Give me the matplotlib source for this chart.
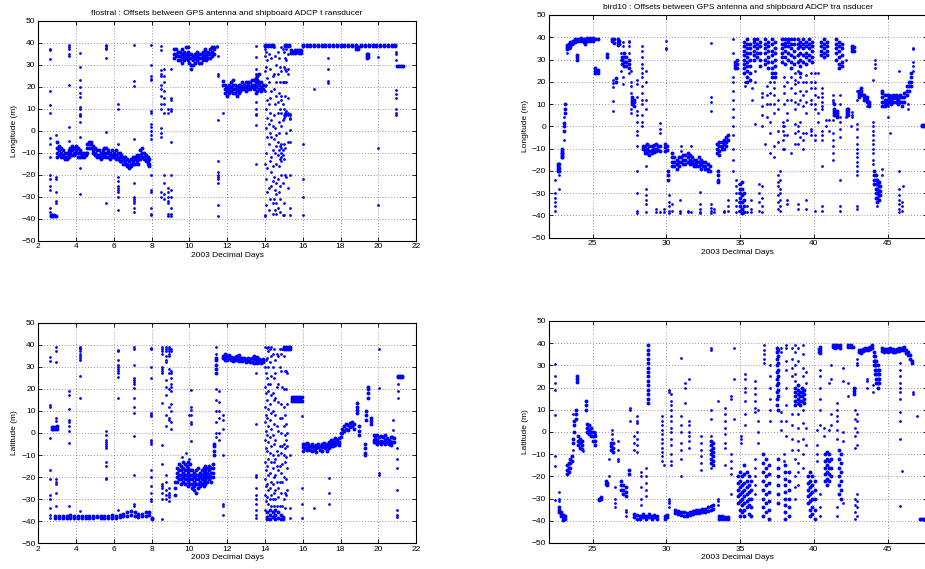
import matplotlib
matplotlib.use("Agg")
import matplotlib.pyplot as plt

plt.rcParams['font.family'] = ['Liberation Sans', 'DejaVu Sans']

# ---- flostral, longitude offsets (day, [values]) ----
flo_lon_dense = [
    (2.65, [-39, -38.5]), (2.75, [-39, -38.5]), (2.85, [-39, -38.5]), (2.95, [-39]),
    (3.0, [-5, -8, -10, -12]), (3.1, [-7, -9, -11]), (3.2, [-8, -10, -12]), (3.3, [-9, -11, -12]),
    (3.4, [-10, -12, -13]), (3.5, [-10, -12, -13]), (3.6, [-9, -11, -12]), (3.7, [-8, -10, -11]),
    (3.8, [-7, -9, -11]), (3.9, [-8, -10, -11]), (4.0, [-7, -9, -10]), (4.1, [-8, -10, -12]),
    (4.2, [-9, -10, -12]), (4.3, [-10, -11, -12]), (4.4, [-10, -11, -12]), (4.5, [-10, -11]),
    (4.6, [-6, -8, -10]), (4.7, [-5, -6, -8]), (4.8, [-5, -6, -8]), (4.9, [-7, -9, -10]),
    (5.0, [-8, -10, -11]), (5.1, [-9, -11, -12]), (5.2, [-9, -11, -12]), (5.3, [-10, -12, -13]),
    (5.4, [-9, -11, -12]), (5.5, [-8, -10, -11]), (5.6, [-8, -10, -12]), (5.7, [-9, -10, -12]),
    (5.8, [-10, -11, -13]), (5.9, [-9, -11, -12]), (6.0, [-10, -11, -12]), (6.1, [-9, -11, -13]),
    (6.2, [-10, -12, -13]), (6.3, [-10, -12, -14]), (6.4, [-11, -12, -14]), (6.5, [-12, -13, -15]),
    (6.6, [-12, -14, -15]), (6.7, [-13, -15, -16]), (6.8, [-14, -16, -17]), (6.9, [-13, -15, -16]),
    (7.0, [-12, -14, -15]), (7.1, [-12, -13, -15]), (7.2, [-11, -13, -14]), (7.3, [-12, -13, -15]),
    (7.4, [-9, -11, -13]), (7.5, [-8, -10, -12]), (7.6, [-10, -12, -13]), (7.7, [-11, -13, -14]),
    (7.8, [-12, -14, -15]), (7.85, [-13, -15, -16]),
    (9.2, [33, 35, 37]), (9.3, [34, 35, 37]), (9.4, [32, 34, 36]), (9.5, [32, 34, 36]),
    (9.6, [31, 33, 35, 37]), (9.7, [32, 34, 36]), (9.8, [33, 35, 38]), (9.9, [32, 34, 36, 38]),
    (10.0, [31, 33, 35]), (10.1, [28, 30, 33, 35]), (10.2, [30, 32, 34]), (10.3, [31, 33, 35]),
    (10.4, [32, 34, 36]), (10.5, [31, 33, 35]), (10.6, [31, 33, 35]), (10.7, [32, 34, 36]),
    (10.8, [33, 35, 37]), (10.9, [32, 34, 36]), (11.0, [33, 35, 36]), (11.1, [33, 35, 37]),
    (11.2, [34, 36, 38]), (11.3, [35, 37, 38]),
    (11.8, [21, 22.5]), (11.9, [17, 19, 21]), (12.0, [16, 18, 20]), (12.1, [17, 19, 21]),
    (12.2, [18, 20, 22]), (12.3, [17, 19, 21, 23]), (12.4, [17, 19, 21]), (12.5, [16, 18, 20]),
    (12.6, [17, 19, 21]), (12.7, [18, 20, 21]), (12.8, [19, 20, 22]), (12.9, [19, 20, 21]),
    (13.0, [18, 20, 22]), (13.1, [19, 21, 22]), (13.2, [19, 20, 22]), (13.3, [20, 21, 23]),
    (13.4, [19, 21, 23]), (13.5, [17, 20, 22, 24]), (13.6, [18, 21, 23, 25]), (13.7, [19, 21, 22, 26]),
    (13.8, [18, 20, 22]), (13.9, [19, 21]),
    (14.0, [38.5, 39]), (14.15, [38.5, 39]), (14.3, [38.5, 39]), (14.45, [38.5, 39]),
    (15.05, [38.5, 39]), (15.15, [38.5, 39]), (15.25, [38.5, 39]),
    (15.4, [35.5, 36.5]), (15.5, [35.5, 36]), (15.6, [35.5, 36.5]), (15.7, [36, 36.5]),
    (15.8, [35.5, 36.5]), (15.9, [35.5, 36.5]),
    (16.0, [38.5, 39]), (16.2, [38.5, 39]), (16.4, [38.5, 39]), (16.6, [38.5, 39]),
    (16.8, [38.5, 39]), (17.0, [38.5, 39]), (17.2, [38.5, 39]), (17.4, [38.5, 39]),
    (17.6, [38.5, 39]), (17.8, [38.5, 39]), (18.0, [38.5, 39]), (18.2, [38.5, 39]),
    (18.4, [38.5, 39]), (18.6, [38.5, 39]), (18.8, [37, 38, 39]), (18.95, [37, 38]),
    (19.1, [38.5, 39]), (19.3, [38.5, 39]), (19.5, [38.5, 39]), (19.7, [38.5, 39]),
    (19.9, [38.5, 39]), (20.1, [38.5, 39]), (20.3, [38.5, 39]), (20.5, [38.5, 39]),
    (20.7, [38.5, 39]), (20.9, [38.5, 39]), (19.4, [33, 34, 35]), (19.45, [33.5, 35]),
    (21.0, [29.5]), (21.1, [29.5]), (21.2, [29.5]), (21.3, [29.5]),
]
flo_lon_sparse = [
    (2.6, [37, 36.5, 32.5, 18, 11.5, 8, -3.5, -6, -12, -20, -22, -25, -27, -35, -37]),
    (2.95, [-2, -21, -22, -28, -32, -33]),
    (3.65, [39, 38, 37, 35, 34, 21, 1.5, -4.5]),
    (4.2, [35.5, 29, 23, 20, 17, 15.5, 11, 10, 7.5, 7, 6.5, 4, -3, -17, -29]),
    (5.6, [39, 38.5, 37.5, 37, 33, -0.5, -33]),
    (6.2, [12, 10, -6, -21, -23, -25, -26, -27, -28, -30, -36]),
    (7.05, [39, 22.5, 20.5, -4, -24, -30, -31, -32, -33, -35, -37]),
    (7.95, [39, 30, 25, 23.5, 23, 9, 8, 3, 1.5, 0, -2, -4, -20, -27, -28, -35, -38, -38.5]),
    (8.5, [38.5, 36.5, 27.5, 26, 25, 21, 19, 16, 12, 10, 1, -1, -3, -28, -30]),
    (8.65, [28, 25, 22, 18, 15, 12, 8, -20, -24, -29, -31]),
    (8.85, [10, 8, -26, -28, -30, -32, -33, -38, -39]),
    (9.05, [28, 15, 14, 10, 9, -5, -20, -27, -30, -35, -38, -39]),
    (11.45, [38.5, 38]),
    (11.5, [34, 26, 25, 5, -14, -19, -20, -21, -22, -24, -34, -39]),
    (11.8, [8]),
    (13.55, [38.5, 33.5, 28, 26, 13, 10, 7.5, 7, 2.5, -15]),
    (14.0, [37, 34, 27, 20.5, 18, -15, -38.5, -39]),
    (14.07, [36, 29, 21, 10, 1, -10, -22, -34]),
    (14.13, [32, 24, 14, 6, -3, -17, -28]),
    (14.2, [35, 22, 12, 3, -6, -26, -36]),
    (14.27, [28, 15, 8, -1, -14, -31]),
    (14.33, [33, 18, 5, -3, -12, -19, -25]),
    (14.4, [25, 2, -9, -16, -23, -33, -38]),
    (14.47, [38, 26, 19, 7, -4, -21, -31]),
    (14.53, [34, 12, 1, -10, -27, -36]),
    (14.6, [30, 22, 16, -2, -7, -15, -24, -29, -33, -38]),
    (14.67, [36, 26, 13, 8, -5, -11, -22, -35]),
    (14.73, [33, 17, 4, -1, -9, -16, -28]),
    (14.8, [29, 22, 10, -7, -13, -25, -31, -37]),
    (14.87, [38, 27, 16, 14, 8, 2, -6, -8, -10, -12, -14, -20]),
    (14.93, [37, 22, 12, 5, -9, -11, -24, -38.5]),
    (15.0, [36, 29, 22, 10, 7, 6, -6, -13, -33, -38.5]),
    (15.07, [33, 28, 16, 8, 6.5, -8, -20]),
    (15.13, [37, 32, 27, 22, 9, 7.5, -1, -21]),
    (15.2, [35, 28, 26, 15, 8, 7, -5, -26]),
    (15.35, [7.5, 7, 6, 5.5, 0.5, -5, -20, -35, -38.5]),
    (16.0, [-6, -22, -30, -38.5]),
    (16.6, [19]),
    (17.35, [33, 28, 22.5, 21.5]),
    (20.0, [33.5, -8, -34]),
    (20.95, [36, 35, 32, 18.5, 16.5, 15, 10, 8, 7]),
]

# ---- flostral, latitude offsets ----
flo_lat_dense = [
    (2.9, [-37.5, -38.5]), (3.1, [-37.5, -38.5]), (3.3, [-37.5, -38.5]), (3.5, [-37.5, -38.5]),
    (3.7, [-37, -38.5]), (3.9, [-37.5, -38.5]), (4.1, [-37.5, -38.5]), (4.3, [-37.5, -38.5]),
    (4.5, [-37.5, -38.5]), (4.7, [-37.5, -38.5]), (4.9, [-37.5, -38.5]), (5.1, [-37.5, -38]),
    (5.3, [-37.5, -38.5]), (5.5, [-37.5, -38.5]), (5.7, [-37.5, -38.5]), (5.9, [-37, -38.5]),
    (6.1, [-37.5, -38.5]), (6.3, [-37, -38]), (6.5, [-36.5, -37.5]), (6.7, [-36, -37.5]),
    (6.9, [-35.5, -37]), (7.1, [-36, -37.5]), (7.3, [-36.5, -38]), (7.5, [-36.5, -37.5]),
    (7.7, [-36, -37.5]), (7.85, [-36, -37]), (8.0, [-38.5, -39]),
    (2.7, [2, 2.5]), (2.8, [2, 2.5]), (2.9, [2, 2.5]), (3.0, [2, 3]),
    (9.25, [-28, -25, -22]), (9.35, [-16, -18, -20, -22]), (9.45, [-14, -17, -19, -21]),
    (9.55, [-15, -17, -19, -21, -23]), (9.65, [-13, -16, -18, -20, -22]), (9.75, [-14, -17, -19, -21, -23]),
    (9.85, [-15, -17, -19, -21]), (9.95, [-13, -16, -18, -20, -22, -24]), (10.05, [-14, -17, -19, -21, -23]),
    (10.15, [-17, -19, -21, -23, -25]), (10.25, [-18, -20, -22, -24, -26]), (10.35, [-17, -19, -21, -23, -27]),
    (10.45, [-16, -19, -21, -23, -25]), (10.55, [-18, -20, -22, -24]), (10.65, [-17, -19, -21, -23]),
    (10.75, [-16, -18, -20, -22, -24]), (10.85, [-15, -17, -19, -21, -23]), (10.95, [-16, -18, -20, -22]),
    (11.05, [-15, -17, -19, -21]), (11.15, [-16, -18, -20, -22]), (11.25, [-14, -16, -18, -20]),
    (11.32, [-10, -8, -6, -5]), (11.42, [27, 29, 31, 33, 34]),
    (11.8, [34, 35]), (11.9, [33, 34.5, 36]), (12.0, [33, 35]), (12.1, [34, 35.5]),
    (12.2, [33, 34.5]), (12.3, [32.5, 34]), (12.4, [33, 34.5]), (12.5, [33, 35]),
    (12.6, [32.5, 34, 35.5]), (12.7, [33, 34]), (12.8, [32.5, 34]), (12.9, [33, 34]),
    (13.0, [32, 33.5]), (13.1, [32.5, 34]), (13.2, [32, 33.5]), (13.3, [32, 34]),
    (13.4, [31.5, 33.5, 35]), (13.5, [32, 33.5]), (13.6, [31.5, 33, 34.5]), (13.7, [32, 33.5]),
    (13.8, [31.5, 33]), (13.9, [32, 33.5]),
    (14.1, [-36, -38, -39]), (14.25, [-35, -37, -39]), (14.4, [-36, -38]), (14.55, [-35, -37, -39]),
    (14.7, [-36, -38.5]), (14.85, [-37, -39]), (14.95, [-38, -39]),
    (15.0, [38, 39]), (15.1, [38, 39]), (15.2, [38, 39]), (15.3, [38, 39]),
    (15.45, [14.5, 15.5, 16.5]), (15.55, [14.5, 15.5, 16.5]), (15.65, [14.5, 15.5, 16.5]),
    (15.75, [14.5, 15.5, 16.5]), (15.85, [14.5, 15.5, 16.5]), (15.95, [14.5, 16.5]),
    (16.0, [-5, -6.5, -8]), (16.1, [-5, -7]), (16.2, [-4.5, -6, -7.5]), (16.3, [-5, -6.5]),
    (16.4, [-6, -7.5]), (16.5, [-5, -6.5, -8]), (16.6, [-6, -7.5]), (16.7, [-5.5, -7, -8.5]),
    (16.8, [-5, -6.5]), (16.9, [-6, -7.5]), (17.0, [-5, -6.5, -8]), (17.1, [-4.5, -6]),
    (17.2, [-5.5, -7]), (17.3, [-5, -6.5, -8]), (17.4, [-4, -5.5, -7]), (17.5, [-3, -4.5, -6]),
    (17.6, [-3, -4.5, -6]), (17.7, [-2.5, -4, -5.5]), (17.8, [-3, -4.5]), (17.9, [-2.5, -4, -5.5]),
    (18.0, [-2, 0]), (18.1, [0, 2]), (18.2, [1, 3]), (18.3, [2, 4]), (18.4, [1.5, 3.5]),
    (18.5, [2.5, 4.5]), (18.6, [3, 5]), (18.7, [2, 4]),
    (18.85, [9, 10.5, 12, 13.5]), (19.0, [-1, 1, 3]), (19.3, [-5, -7, -9, -10]),
    (19.35, [6, 8, 10]), (19.45, [16, 18, 20, 21]), (19.6, [4, 5.5, 7]),
    (19.75, [-1, -3, -4]), (19.85, [-2, -4]), (19.95, [-1, -3, -5]), (20.05, [-2, -4]),
    (20.15, [-1.5, -3.5, -5]), (20.25, [-2, -4]), (20.35, [-1, -3, -5]), (20.45, [-2.5, -4]),
    (20.55, [-3, -5]), (20.65, [-2, -4, -5.5]), (20.75, [-2, -4]), (20.85, [-2.5, -4]),
    (21.05, [25.5, 26]), (21.15, [25.5, 26]), (21.25, [25.5, 26]),
]
flo_lat_sparse = [
    (2.6, [34.5, 32.5, 12.5, 12, -2.5, -17, -21, -28, -30, -34, -37, -38.5]),
    (2.95, [39, 37, 32, 7, 5.5, -21, -22, -23, -27, -33]),
    (3.65, [19, 17, 11, 6, 5, 3, 1, -4.5, -33]),
    (4.2, [39, 38.5, 38, 37, 36, 35, 34, 33, 26, 16, -35.5]),
    (5.6, [1, -1, -3, -4, -5, -6, -7, -13, -15, -20.5, -21]),
    (6.2, [37.5, 37, 33, 31, 30, 29, 28, 27, 25.5, 16, -35]),
    (7.05, [39, 38, 31, 25, 24, 23, 22, 20.5, 16, 12, 9, -1.5, -19, -32, -33]),
    (7.95, [38.5, 38, 30, 25, 9, 8, 7.5, -3, -4, -5, -17, -20, -24, -27, -30, -31]),
    (8.55, [39, 38, 37, 36, 30, 29, 28, 27, 13.5, -5.5, -14, -23, -24, -25, -27, -30, -39]),
    (8.75, [39, 38, 37, 35, 33, 32, 24, 21, 17, 8, 3, -19, -22, -26, -28, -30]),
    (8.9, [39, 38, 37, 36, 35, 29, 27, 20, 12, 7, 6, -25, -27, -28, -29, -31]),
    (9.05, [38, 37, 28, 27, 25, 22, 21, 19, 13, 10, 5, 2]),
    (9.6, [-11]), (9.8, [-9]), (10.0, [8, -12]), (10.1, [19.5, 12, 10.5, 8, 5, 4, -3.5]),
    (11.4, [-2, 0, 5, 10, 15, 20, 36, 39]),
    (11.55, [19, 14, 10, 7, 0, -3]),
    (11.8, [8, 6, 2, -10, -32, -33, -37]),
    (13.55, [27, 4, -19, -20, -25, -28, -30, -32, -35, -37, -38.5]),
    (14.0, [39, 30, 21, 12, 5, -3, -13, -21, -28, -35]),
    (14.05, [33, 27, 18, 8, 1, -7, -17, -24, -31]),
    (14.12, [38.5, 34, 25, 15, 7, -1, -8, -15, -23, -29]),
    (14.18, [39, 37, 30, 22, 19, 11, 3, -4, -12, -19, -26, -32]),
    (14.25, [38, 32, 22, 13, 6, -2, -9, -18, -25, -30]),
    (14.32, [39, 35, 26, 17, 9, 2, -6, -13, -22, -28, -33]),
    (14.4, [36, 30, 18, 10, -1, -10, -16, -23, -30]),
    (14.47, [38, 25, 15, 4, -5, -13, -20, -27, -33]),
    (14.55, [33, 27, 16, 8, -3, -12, -19, -26, -30]),
    (14.62, [36, 21, 3, -8, -15, -22, -33]),
    (14.7, [35, 22, 14, 1, -10, -17, -25, -29]),
    (14.77, [38, 30, 7, -6, -15, -22, -33]),
    (14.85, [36, 28, 13, 0, -9, -18, -27]),
    (14.92, [38, 21, 7, -6, -14, -22, -33]),
    (15.0, [35, 20, 12, 3, -5, -10, -20, -30]),
    (15.05, [28, 8, -1, -7, -13, -27, -34]),
    (15.12, [28, 20, 4, -3, -11, -21, -28]),
    (15.18, [27, 13, 0, -6, -16, -26]),
    (15.35, [-10, -34, -38.5]),
    (15.95, [7.5, -25, -32, -38.5]),
    (16.6, [-34]),
    (17.4, [-20.5, -27, -32]),
    (20.05, [38, 20.5, -18, -19]),
    (20.8, [6, 1.5]),
    (21.0, [-7, -12, -16, -26, -35, -37, -38]),
    (21.05, [22, 19, 16]),
]

# ---- bird10, longitude offsets ----
bird_lon_dense = [
    (22.65, [-17, -18, -19, -20]), (22.75, [-17, -18.5, -20]), (22.9, [-11, -12, -13, -14]),
    (22.95, [-10, -12, -14]), (23.05, [-2, 0, 1.5]), (23.15, [6, 8, 10]),
    (23.3, [34.5, 35.5, 36.5]), (23.4, [35, 36, 37]), (23.5, [35.5, 37, 38]), (23.6, [37, 38]),
    (23.7, [37.5, 38.5]), (23.8, [38, 39]), (24.0, [38.5, 39]), (24.2, [38.5, 39.5]),
    (24.4, [38, 39]), (24.5, [37, 38]), (24.6, [38.5, 39.5]), (24.8, [38.5, 39.5]),
    (25.0, [38.5, 39.5]), (25.2, [39]), (25.35, [39]),
    (23.95, [30, 31, 32]), (25.2, [24, 25, 26]), (25.4, [24, 25.5]), (25.95, [31, 32.5]),
    (26.3, [38.5, 39]), (26.45, [37.5, 39]), (26.7, [36.5, 38, 39]), (26.8, [37, 38.5]),
    (26.6, [20, 21.5]),
    (27.0, [28, 30, 31]), (27.15, [27, 29, 31, 33]), (27.3, [27, 29, 31]), (27.45, [26, 28, 30]),
    (27.7, [10, 11, 12, 13]), (27.8, [9, 11, 12]),
    (28.4, [-9, -10]), (28.55, [-9, -10.5, -12]), (28.7, [-8, -10, -12]), (28.85, [-9, -11, -13]),
    (29.0, [-9, -10.5, -12]), (29.15, [-8.5, -10, -11.5]), (29.3, [-8, -10, -11]), (29.45, [-9, -10.5]),
    (29.6, [-9, -11]), (29.9, [-8, -9.5, -11]), (30.05, [-9, -10.5]),
    (30.1, [-20, -22, -24]),
    (30.4, [-12, -14, -16, -18]), (30.55, [-14, -16, -18]), (30.7, [-15, -17, -19]), (30.85, [-14, -16, -18]),
    (31.0, [-14, -16]), (31.15, [-13, -15, -17]), (31.3, [-13, -15, -17]), (31.45, [-12, -14, -16]),
    (31.6, [-13, -15, -17]), (31.75, [-14, -16, -17]), (31.9, [-15, -17, -18]), (32.05, [-15, -16.5, -18]),
    (32.2, [-14, -16, -18]), (32.35, [-15, -17, -19]), (32.5, [-16, -18]), (32.65, [-16, -18, -19]),
    (32.8, [-17, -19, -20]), (32.95, [-18, -20]),
    (33.45, [-8, -10, -12]), (33.6, [-7, -9, -11, -13]), (33.75, [-7, -9, -10]), (33.9, [-6, -8, -10]),
    (34.05, [-5, -7, -9]), (34.2, [-4, -6]), (33.5, [-20, -22, -24, -25]),
    (34.65, [26, 27.5, 29]), (34.8, [26, 28, 30]),
    (35.0, [-26, -28, -30, -32, -34, -36, -38]), (35.15, [-25, -28, -31, -34, -37, -39]),
    (35.3, [-30, -33, -36, -38.5]),
    (35.25, [38, 36, 34, 32, 30, 28, 26, 24]), (35.45, [39, 37, 35, 33, 31, 29, 27, 25, 22, 20]),
    (35.65, [37, 35, 33, 30, 27, 24, 21]), (35.95, [39, 38, 36, 34, 32, 30]),
    (36.15, [39, 37, 35, 33, 31]), (36.35, [38, 36, 33, 30, 27]),
    (36.7, [39, 37, 35, 33, 30, 28]), (36.9, [38, 36, 34, 31, 29, 26]),
    (37.15, [39, 37, 34, 32, 29, 26, 24, 22]), (37.35, [38, 35, 33, 30, 27, 24, 22]),
    (37.85, [39, 37, 35, 33, 31, 29]), (38.05, [39, 37.5, 36, 34, 31, 28]), (38.25, [39, 38, 36, 33, 30]),
    (38.45, [39, 37, 35, 32, 29, 26]), (38.65, [39, 37, 34, 31, 28]),
    (38.9, [39, 37, 35, 32, 29]), (39.1, [38, 36, 33, 30, 27, 24]), (39.3, [39, 37, 35, 32, 29]),
    (39.5, [38, 36, 33, 31, 28]), (39.7, [39, 37, 35, 32, 30]), (39.9, [38, 36, 34, 31, 29]),
    (40.5, [38, 36, 34, 32]), (40.7, [39, 37, 35, 33, 31]), (40.9, [38, 36, 34, 32]),
    (41.5, [39, 37, 35, 33, 30]), (41.7, [38, 36, 34, 31, 28, 26]), (41.9, [37, 35, 32, 29, 27]),
    (42.6, [34, 35, 36]), (42.75, [34, 35.5]),
    (41.4, [5, 6, 7, 8, 10]), (41.55, [4, 5, 6, 7]), (42.25, [5, 6, 7, 8]), (42.35, [5, 6.5, 8]),
    (43.05, [13, 14, 15, 16]), (43.2, [14, 15, 16, 17]), (43.4, [12, 13, 14]), (43.6, [11, 12, 13]),
    (43.75, [9, 10, 11]),
    (44.1, [-20, -22, -24, -26]), (44.2, [-22, -24, -26, -28, -30, -32]),
    (44.3, [-24, -26, -28, -30, -32, -34]), (44.4, [-25, -27, -29, -31, -33]), (44.5, [-27, -29, -31]),
    (44.65, [9, 11, 13, 15, 16]), (44.8, [9, 10.5, 12, 14]), (44.95, [10, 12, 14]), (45.1, [11, 12.5, 14]),
    (45.25, [10, 12, 13.5]), (45.4, [11, 12.5, 14]), (45.55, [11, 12.5, 14]), (45.7, [10, 12, 13.5]),
    (45.85, [11, 13, 14]), (46.0, [9, 11, 13]), (46.15, [11, 13, 15]), (46.3, [14, 16, 18]),
    (46.45, [16, 18, 20]), (46.6, [18, 20, 22, 24]),
    (47.35, [0, 0.5]), (47.5, [0, 0.5]), (47.65, [0]),
]
bird_lon_sparse = [
    (22.45, [-24, -30, -32, -34, -36, -38]), (22.7, [-22, -28]), (23.1, [-6, 4]), (23.3, [33]),
    (26.4, [21, 19.5, 17.5, 11.5, 7]), (26.9, [33, 30, 25]), (27.1, [38, 36, 22, 19]),
    (27.5, [38.5, 38, 36, 33, 24]), (27.6, [25, 20, 18, 15, 8, 6]),
    (28.0, [21, 19, 13, 7, 5, 2, -2, -4, -9, -20, -30, -38, -39]),
    (28.35, [36, 34, 31, 28, 26, 24, 22, 18, 15, 12, 10, 5, 2, 0]),
    (28.65, [25, 20, 12, 8, -18, -28, -31, -33, -35, -38.5]),
    (29.3, [-37, -38.5]), (29.6, [1.5, -1, -3, -38.5]), (29.85, [-38.5, -37]), (29.95, [38.5, 35, 34.5]),
    (30.2, [-31, -34, -36, -38, -39]), (30.4, [-35, -38]), (30.9, [-33, -38, -39]),
    (31.5, [-38.5, -38]), (31.7, [-38.5, -9]), (32.3, [-29.5, -35, -37, -38.5, -39]),
    (33.0, [-35, -36.5, -38, -39, 37.5, 13, 11, 7]), (33.25, [-37, -38.5]), (33.9, [-38, -38.5]),
    (34.2, [-33, -36, -38]), (31.0, [-9, -11]),
    (34.55, [39, 33, 22, 20, 16, 12, 8, 4, 0, -4, -10, -15, -20]),
    (34.75, [-24, -27, -30, -33, -36, -38.5]), (34.9, [-26, -30, -34, -38]),
    (35.5, [-36, -38.5]), (35.75, [-33, -37, -38.5]),
    (35.35, [20, 18]), (35.8, [17, 12]), (36.05, [25, 20, 1]),
    (36.3, [-26, -30, -34, -38]),
    (36.5, [15, 13, 9, 5, 0, -27, -32, -36, -38.5]), (36.7, [-8]),
    (36.8, [18, 14, 10, 4]), (37.0, [20, 15, 10, 2, -3, -12]),
    (37.3, [20, 17, 14, 10, 6, -9, -14]),
    (37.55, [12, 8, -2, -7, -22, -25, -27, -31, -34, -37]),
    (37.7, [-20, -24, -28, -30, -33, -36, -38]),
    (37.9, [2, 0, -2, -6, -10]), (38.0, [22, 18, 15, 10, 0, -4, -10]),
    (38.2, [20, 12, 6, 3, -4, -33, -35]), (38.45, [22, 17, 12, -12]),
    (38.7, [24, 21, 19, 15, 11, 8, 1, -3, -8]), (38.9, [25, 20, 10, 0, -2, -8, -35, -37]),
    (39.05, [22, 16, 12, 2, -5]), (39.3, [20, 14, 9, -3, -6, -10]),
    (39.5, [23, 20, 16, 11, 6, -3, -33, -37]), (39.8, [24, 20, 17, 12, 10, -1, -2, -4]),
    (40.05, [24, 20, 17, 14, 10, 8, -4, -6, -38]), (40.3, [24, 13, 6, 2]),
    (40.55, [17, 15, 13, 11, 9, 8, -2, -4, -6, -18, -36, -38]),
    (40.8, [3, 0]), (41.0, [3, -2]),
    (41.3, [14, 12, 11, 3, -3, -6, -9, -12, -15]),
    (41.75, [14, 10, 4, 2, -1, -5, -24, -36, -38]),
    (42.2, [30, 4]), (42.5, [0]),
    (42.9, [16, 12, 1, -1, -5, -8, -10, -12, -14, -16, -18, -20, -22, -36, -37]),
    (43.6, [9]), (44.0, [2, 0, -2, -4, -6, -8, -10, -12, -15, -17, 21]),
    (44.15, [30, 28, 26]), (44.3, [-36]), (44.6, [-19, -22]),
    (45.0, [9, 4]), (45.2, [-3]),
    (45.8, [25, -20, -28, -31, -33, -35, -37, -38.5]), (45.95, [-34, -36, -38]),
    (46.05, [-27]), (46.4, [10, 8]), (46.7, [35, 34.5, 29, 27, 25]), (42.6, [6.5, 5, 4]),
]

# ---- bird10, latitude offsets ----
bird_lat_dense = [
    (22.7, [-34, -35, -36]), (22.85, [-36, -37, -38]), (23.0, [-37.5, -38.5, -39.5]), (23.15, [-38, -39]),
    (23.3, [-15, -17, -19]), (23.4, [-14, -16, -18]), (23.5, [-12, -14, -16]), (23.6, [-11, -13]),
    (23.65, [-5, -3]), (23.75, [0, 3, 5]), (23.85, [6, 8, 10]), (23.95, [22.5, 24, 25]),
    (24.0, [-2, -4, -6]), (24.15, [-3, -5, -7]), (24.3, [-4, -6, -7.5]), (24.55, [10, 12, 14]),
    (24.6, [0, 2, 3.5]), (24.75, [-1, 1, 3]), (24.9, [-2, 0, 2]), (25.05, [-4, -2, 0]), (25.15, [-6, -4, -2]),
    (25.45, [-30, -30.5]), (25.6, [-30, -29.5]), (25.9, [-22, -23.5]), (26.0, [-23, -24]),
    (26.25, [-5, -6.5, -8]), (26.4, [-5, -7, -9]),
    (26.95, [-22, -24, -26]), (27.1, [-24, -26, -28]), (27.25, [-25, -27, -29]), (27.5, [-17, -19]),
    (27.8, [-37, -38.5]), (28.0, [-37.5, -39]), (28.2, [-38, -39]), (28.4, [-37, -38.5]),
    (28.6, [-38, -39]), (28.8, [-37, -38.5]), (29.0, [-38, -39]), (29.2, [-37.5, -38.5]),
    (29.4, [-38, -39]), (29.9, [-38, -39]), (30.05, [-37.5, -38.5]),
    (28.75, [39, 37, 35, 33, 31, 29, 27, 25, 23, 21, 19, 17, 15, 13]),
    (30.6, [-35, -36.5]), (30.8, [-35.5, -37]), (31.0, [-36, -37.5]), (31.2, [-36, -38]),
    (31.4, [-36.5, -38]), (31.6, [-36, -37.5]), (31.8, [-35.5, -37]), (32.0, [-35, -36.5]),
    (32.2, [-35, -36.5]), (32.4, [-34.5, -36]), (32.6, [-34.5, -36]), (32.8, [-34, -35.5]),
    (33.0, [-33.5, -35]), (33.2, [-33, -34.5]),
    (33.6, [-38, -39]), (33.8, [-38, -39]), (34.0, [-38.5, -39]), (34.2, [-38.5, -39]),
    (33.05, [-4, -6, -8, -10, -12, -14]), (33.15, [-5, -7, -9, -11, -13, -15]),
    (34.85, [-20, -23, -26, -29, -32]), (35.0, [-18, -22, -25, -28, -31, -35, -38]),
    (35.15, [-20, -24, -27, -30, -33, -36]), (35.3, [-15, -19, -23, -26, -29, -32, -35, -38]),
    (35.45, [-18, -22, -25, -28, -31, -34]), (35.6, [-20, -24, -27, -30, -33, -37]),
    (35.75, [-22, -26, -30, -34, -38]),
    (36.55, [-10, -14, -18, -22, -26, -30, -34, -38]), (36.75, [-12, -16, -20, -24, -28, -32, -36]),
    (36.95, [-15, -19, -23, -27, -31, -35, -39]),
    (37.5, [38, 36, 33, 30, 27, 24, 21, 18, 15, 12]), (37.6, [37, 34, 31, 28, 25, 22, 19, 16, 10]),
    (37.55, [-12, -16, -20, -24, -28, -32]),
    (38.05, [-15, -18, -21, -24, -27, -30, -33, -36, -39]), (38.3, [-18, -22, -26, -30, -34, -38]),
    (38.75, [12, 14, 16, 18, 20]), (38.9, [13, 15, 17, 19, 21]), (39.05, [12, 14, 16, 18]),
    (39.2, [14, 16, 18, 20]), (39.35, [13, 15, 17, 19]),
    (39.6, [-20, -23, -26, -29, -32]), (39.75, [-18, -22, -25, -28, -31, -35, -38]),
    (39.9, [-20, -24, -27, -30, -34, -37]), (40.05, [-22, -26, -30, -35, -39]),
    (40.35, [36, 37.5]), (40.45, [35.5, 37, 38.5]),
    (40.75, [-10, -13, -16, -19, -22]), (40.9, [-9, -12, -15, -18, -21, -24]),
    (41.05, [-10, -13, -16, -19, -22]), (41.2, [-12, -16, -20]),
    (41.3, [38.5, 39]), (41.45, [38, 39]), (41.6, [38.5, 39]), (41.75, [38, 39]),
    (41.7, [-8, -12, -16, -20, -24, -28]), (41.85, [-10, -14, -18, -22, -26, -30]),
    (42.35, [38.5, 39]), (42.5, [38.5, 39]), (42.65, [38.5]), (42.75, [17, 18.5, 20]),
    (43.05, [36, 37]), (43.2, [35.5, 37]), (43.35, [36.5, 37.5]), (43.5, [37, 38]),
    (43.65, [37, 38]), (43.8, [37.5, 38.5]), (43.95, [38, 39]),
    (44.05, [36, 34, 32, 30]), (44.15, [34, 32, 30, 28, 26]), (44.25, [32, 30, 28, 26, 24, 22]),
    (44.35, [30, 28, 26, 24, 22, 20]), (44.45, [28, 26, 24, 22]),
    (44.6, [36.5, 38]), (44.75, [36, 37.5]), (44.9, [36.5, 37.5]), (45.05, [36, 37.5]),
    (45.2, [36.5, 38]), (45.35, [36, 37.5]), (45.5, [36, 37]), (45.65, [36.5, 37.5]),
    (45.8, [36.5, 38]), (45.95, [37, 38]), (46.1, [37, 38.5]),
    (46.25, [35.5, 37]), (46.4, [34.5, 36]), (46.55, [33, 34.5]), (46.65, [31, 32]),
    (47.2, [-39]), (47.35, [-39]), (47.5, [-39]), (47.65, [-39]),
]
bird_lat_sparse = [
    (22.45, [30.5, 25, 22, 19, 7.5, -11, -15.5, -30.5]), (22.7, [-27, -30, -31]),
    (23.65, [-8, 8]), (24.35, [-8.5]), (25.2, [-1, 0]), (26.1, [-12, -20]), (26.3, [1, -1, -3]),
    (26.5, [-25, -30, -32, -34]), (26.7, [-4, -8, -12, -13]), (27.3, [-35, -36, -38]),
    (27.55, [5, 10, 11]), (27.8, [-2, -5, -8]), (28.0, [7, 5, 4, 0, -3, -6, -9]),
    (28.3, [-20, -25, -30, -33, -18]), (28.6, [-16, -20, -23, -26, -29]),
    (29.7, [7, 5, 3, 1, -1, -3, -5, -7, -9, -11, -13]), (29.85, [-15]),
    (30.2, [19, 18, -30, -31, -32, -34]),
    (30.35, [17, 14, 12, 10, 7, 5, 2, 0, -3, -6, -10, -13, -15]),
    (31.0, [33.5, 7, 3, 0, -5, -8, -12, -20]), (31.3, [22, 20, 13]),
    (31.55, [24, 5, 3, 0, -2, -4, -7]), (32.35, [-2, -5, -8, -11, -14, -17]),
    (33.0, [38, 37, 10, 6, -2, -16]), (33.5, [14, -30, -31, -33]),
    (34.0, [11, 8, 5, 2, -1, -5, -7, -15]), (34.4, [16, 15, -10, -13, -16, -19, -28]),
    (34.6, [38, 24, 6]), (35.1, [-2, -3, -5]), (35.35, [26, 24, 20, 18, 14, 8, 3]),
    (36.05, [23, 20, 17, 14, 11, 9, -12, -16, -20, -24, -28]), (36.25, [10, 5, 0, -5]),
    (36.6, [39, 37, 35, 33, 31]), (37.05, [30, 25, 20, 15, 10, 5]),
    (37.8, [38, 36, 9, 5, 1]), (37.95, [-10, -13]),
    (38.15, [39, 38, 32, 28, 20, 12, 5, -2]), (38.55, [38, 33, 29, 25, 8, 3, -3, -8]),
    (38.7, [39, 36, 30, 26, 23, -12, -20, -25, -30]),
    (38.95, [38, 32, 8, 2, -4, -8, -14, -18, -24]),
    (39.25, [39, 35, 29, 25, 10, 4, -3, -10, -16]), (39.45, [27, 22, 2, -6]),
    (40.2, [-10, -13, -6, 1]), (40.45, [28, 25, 20, 15, 10, 3, -28, -34, -38]),
    (40.7, [-2, 2]), (41.0, [22, 1]), (41.2, [30, 24, 8, 3]),
    (41.55, [13, 10, 7, 5, 1, -3, -34, -38]), (41.95, [29, 23, 0, -4, -32]),
    (42.3, [16, 22]), (42.8, [20, 10, 6, 2, -2, -7, -30, -33, -36, -39]),
    (42.95, [33, 31, 30, 8, 5, 0, -6, -28, -31, -34, -38]),
    (43.6, [20, 23, 24]), (44.0, [21, 18]),
    (45.85, [31, 28, 25, 22, 20, 18, 15, 9, 5, -3, -33.5]), (46.0, [-17.5]),
    (46.7, [17, 18]), (47.0, [7]),
]


def flatten(groups):
    xs, ys = [], []
    for day, vals in groups:
        xs += [day] * len(vals)
        ys += vals
    return xs, ys


fig = plt.figure(figsize=(9.25, 5.69), dpi=100)

panels = [
    ([0.0414, 0.5770, 0.4084, 0.3866], flo_lon_dense, flo_lon_sparse, (2, 22), range(2, 23, 2),
     'Longitude (m)', 'flostral : Offsets between GPS antenna and shipboard ADCP t ransducer'),
    ([0.5935, 0.5823, 0.4084, 0.3914], bird_lon_dense, bird_lon_sparse, (22.05, 47.66), range(25, 46, 5),
     'Longitude (m)', 'bird10 : Offsets between GPS antenna and shipboard ADCP tra nsducer'),
    ([0.0414, 0.0452, 0.4084, 0.3877], flo_lat_dense, flo_lat_sparse, (2, 22), range(2, 23, 2),
     'Latitude (m)', None),
    ([0.5935, 0.0457, 0.4084, 0.3902], bird_lat_dense, bird_lat_sparse, (22.05, 47.66), range(25, 46, 5),
     'Latitude (m)', None),
]

for pos, dense, sparse, xlim, xticks, ylabel, title in panels:
    ax = fig.add_axes(pos)
    dx, dy = flatten(dense)
    sx, sy = flatten(sparse)
    ax.plot(dx, dy, 'o', color='b', ms=2.8, mew=0)
    ax.plot(sx, sy, 'o', color='b', ms=2.0, mew=0)
    ax.set_xlim(xlim)
    ax.set_ylim(-50, 50)
    ax.set_xticks(list(xticks))
    ax.set_yticks(range(-50, 51, 10))
    ax.grid(True, linestyle=(0, (1, 2.5)), color='0.45', linewidth=0.6)
    ax.set_axisbelow(True)
    ax.tick_params(direction='in', length=3, width=0.6, labelsize=6, top=True, right=True, pad=2)
    for s in ax.spines.values():
        s.set_linewidth(0.8)
    ax.set_xlabel('2003 Decimal Days', fontsize=6, labelpad=1)
    ax.set_ylabel(ylabel, fontsize=6, labelpad=2)
    if title:
        ax.set_title(title, fontsize=6, pad=4)

fig.savefig('out.png', dpi=100)
